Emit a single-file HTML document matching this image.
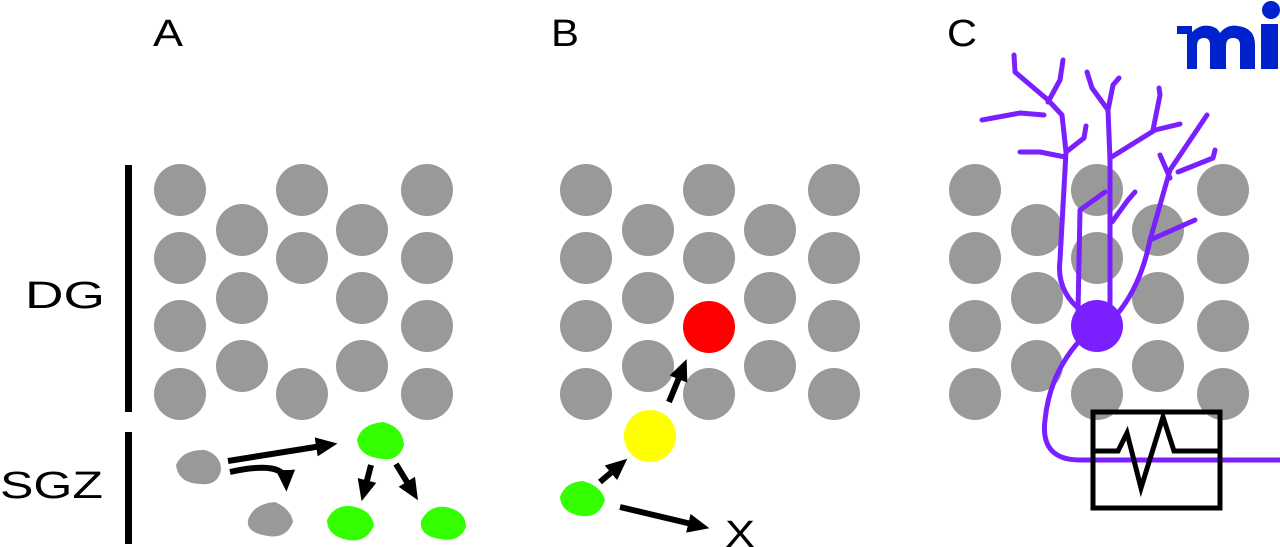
<!DOCTYPE html>
<html><head><meta charset="utf-8"><style>
html,body{margin:0;padding:0;background:#fff;width:1280px;height:547px;overflow:hidden}
svg{display:block}
text{font-family:"Liberation Sans",sans-serif;fill:#000}
</style></head><body>
<svg width="1280" height="547" viewBox="0 0 1280 547">
<defs>
<marker id="ah" markerWidth="5" markerHeight="5" refX="2" refY="2" orient="auto" markerUnits="strokeWidth">
<path d="M0,0.4 L3.6,2 L0,3.6 Z" fill="#000"/></marker>
</defs>
<text x="153" y="46" font-size="38" textLength="30" lengthAdjust="spacingAndGlyphs">A</text>
<text x="551" y="46" font-size="38" textLength="28" lengthAdjust="spacingAndGlyphs">B</text>
<text x="947" y="46" font-size="38" textLength="30" lengthAdjust="spacingAndGlyphs">C</text>
<text x="25" y="308" font-size="38" textLength="80" lengthAdjust="spacingAndGlyphs">DG</text>
<text x="0" y="498" font-size="38" textLength="103" lengthAdjust="spacingAndGlyphs">SGZ</text>
<rect x="125" y="165" width="7" height="247" fill="#000"/>
<rect x="125" y="432" width="7" height="112" fill="#000"/>
<g fill="#999">
<circle cx="180" cy="190" r="26"/><circle cx="180" cy="258" r="26"/><circle cx="180" cy="326" r="26"/><circle cx="180" cy="394" r="26"/>
<circle cx="242" cy="230" r="26"/><circle cx="242" cy="298" r="26"/><circle cx="242" cy="366" r="26"/>
<circle cx="302" cy="190" r="26"/><circle cx="302" cy="258" r="26"/><circle cx="302" cy="394" r="26"/>
<circle cx="362" cy="230" r="26"/><circle cx="362" cy="298" r="26"/><circle cx="362" cy="366" r="26"/>
<circle cx="427" cy="190" r="26"/><circle cx="427" cy="258" r="26"/><circle cx="427" cy="326" r="26"/><circle cx="427" cy="394" r="26"/>
<circle cx="586" cy="190" r="26"/><circle cx="586" cy="258" r="26"/><circle cx="586" cy="326" r="26"/><circle cx="586" cy="394" r="26"/>
<circle cx="648" cy="230" r="26"/><circle cx="648" cy="298" r="26"/><circle cx="648" cy="366" r="26"/>
<circle cx="709" cy="190" r="26"/><circle cx="709" cy="258" r="26"/><circle cx="709" cy="394" r="26"/>
<circle cx="770" cy="230" r="26"/><circle cx="770" cy="298" r="26"/><circle cx="770" cy="366" r="26"/>
<circle cx="834" cy="190" r="26"/><circle cx="834" cy="258" r="26"/><circle cx="834" cy="326" r="26"/><circle cx="834" cy="394" r="26"/>
<circle cx="975" cy="190" r="26"/><circle cx="975" cy="258" r="26"/><circle cx="975" cy="326" r="26"/><circle cx="975" cy="394" r="26"/>
<circle cx="1037" cy="230" r="26"/><circle cx="1037" cy="298" r="26"/><circle cx="1037" cy="366" r="26"/>
<circle cx="1097" cy="190" r="26"/><circle cx="1097" cy="258" r="26"/><circle cx="1097" cy="394" r="26"/>
<circle cx="1158" cy="230" r="26"/><circle cx="1158" cy="298" r="26"/><circle cx="1158" cy="366" r="26"/>
<circle cx="1223" cy="190" r="26"/><circle cx="1223" cy="258" r="26"/><circle cx="1223" cy="326" r="26"/><circle cx="1223" cy="394" r="26"/>
<path d="M176,465 Q183,449 205,450 Q221,455 221,470 Q218,486 200,484 Q178,483 176,465Z"/>
<path d="M248,520 Q253,504 275,502 Q291,509 293,522 Q286,539 268,536 Q246,533 248,520Z"/>
</g>
<g fill="#33ff00">
<path d="M357,440 Q361,424 383,422 Q403,427 404,445 Q399,461 383,459 Q359,457 357,440Z"/>
<path d="M327,520 Q334,505 350,506 Q371,509 374,525 Q367,543 348,540 Q327,536 327,520Z"/>
<path d="M421,521 Q429,505 446,507 Q466,511 466,527 Q459,543 440,539 Q419,536 421,521Z"/>
<path d="M560,497 Q565,482 583,481 Q601,486 605,500 Q599,518 582,516 Q561,513 560,497Z"/>
</g>
<circle cx="709" cy="327" r="26" fill="#ff0000"/>
<circle cx="650" cy="436" r="26" fill="#ffff00"/>
<g stroke="#000" stroke-width="6" fill="none">
<line x1="228" y1="461" x2="328" y2="445" marker-end="url(#ah)"/>
<path d="M230,472 Q285,460 286,482" marker-end="url(#ah)"/>
<line x1="371" y1="465" x2="364" y2="492" marker-end="url(#ah)"/>
<line x1="396" y1="464" x2="413" y2="492" marker-end="url(#ah)"/>
<line x1="669" y1="402" x2="683" y2="368" marker-end="url(#ah)"/>
<line x1="600" y1="482" x2="620" y2="465" marker-end="url(#ah)"/>
<line x1="620" y1="507" x2="700" y2="526" marker-end="url(#ah)"/>
</g>
<text x="725" y="547" font-size="38" textLength="30" lengthAdjust="spacingAndGlyphs">X</text>
<g stroke="#7a1fff" stroke-width="5" fill="none" stroke-linecap="round" stroke-linejoin="round">
<path d="M1083,312 Q1056,292 1060,260 L1066,152 L1062,115 L1048,100 L1015,72 L1014,55"/>
<path d="M1048,102 L1060,80 L1063,60"/>
<path d="M1044,115 L1020,113 L982,120"/>
<path d="M1066,152 L1084,138 L1086,126"/>
<path d="M1065,157 L1040,152 L1020,152"/>
<path d="M1110,305 L1110,160 L1108,110 L1092,88 L1087,72"/>
<path d="M1108,110 L1113,85 L1119,78"/>
<path d="M1110,158 L1155,130 L1180,124"/>
<path d="M1153,130 L1160,95 L1159,88"/>
<path d="M1078,312 L1080,210 L1105,192"/>
<path d="M1112,222 L1128,200 L1135,192"/>
<path d="M1112,320 Q1140,290 1150,240 L1170,170 L1207,115"/>
<path d="M1170,178 L1160,155"/>
<path d="M1178,172 L1213,158 L1215,150"/>
<path d="M1150,240 L1195,220"/>
<path d="M1085,335 Q1050,370 1045,420 Q1040,460 1080,460 L1280,460"/>
</g>
<circle cx="1097" cy="326" r="26" fill="#7a1fff"/>
<rect x="1093" y="412" width="127" height="96" fill="none" stroke="#000" stroke-width="5"/>
<polyline points="1095,451 1118,451 1127,433 1141,488 1163,417 1174,451 1220,451" fill="none" stroke="#000" stroke-width="5"/>
<g fill="#0022cc">
<path d="M1177,26 L1192,26 L1192,32 Q1200,24 1210,26 Q1217,27 1220,33 Q1227,24 1238,26 Q1255,28 1255,45 L1255,69 L1240,69 L1240,45 Q1240,38 1233,38 Q1226,38 1226,46 L1226,69 L1210,69 L1210,45 Q1210,38 1204,38 Q1197,38 1197,46 L1197,69 L1187,69 L1187,34 L1177,34 Z"/>
<rect x="1261" y="24" width="17" height="45"/>
<circle cx="1271" cy="10" r="9"/>
</g>
</svg>
</body></html>
